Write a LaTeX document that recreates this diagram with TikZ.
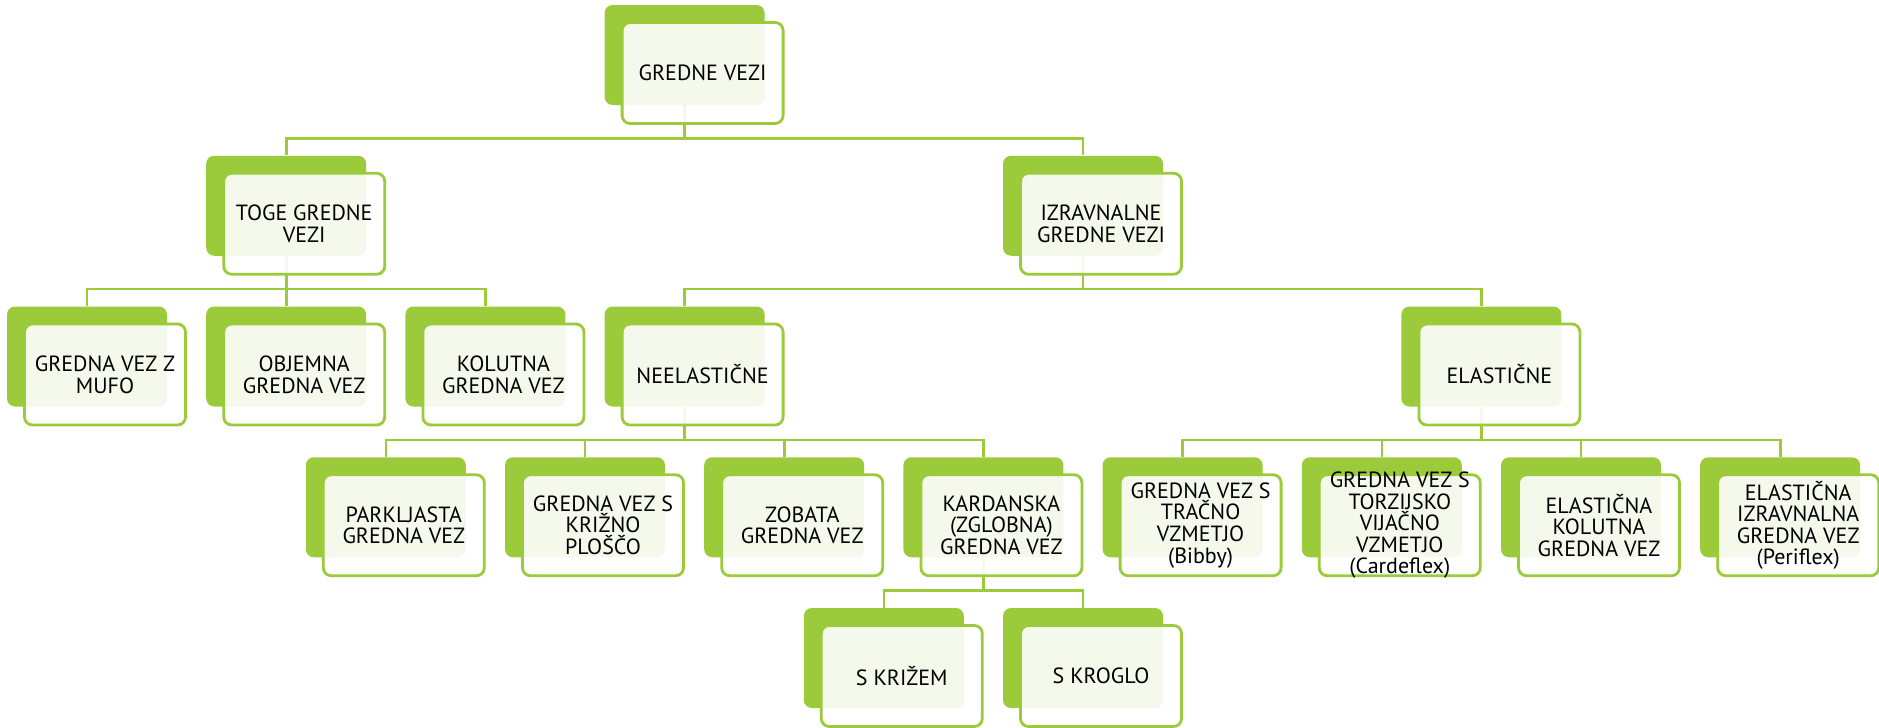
\documentclass[tikz,border=0pt]{standalone}
\usepackage{fontspec}
\setmainfont{PT Sans}
\usepackage{xcolor}
\definecolor{vezgreen}{RGB}{155,203,59}
\pgfdeclarelayer{bg}
\pgfsetlayers{bg,main}
% one box of the chart: green card behind, light card in front, text on top
\newcommand{\gvez}[4]{%
  \node[backbox] (#1-b) at ({87+199.2*#2},{55+150.75*#3}) {};
  \node[frontbox] (#1) at ([xshift=9pt,yshift=-9pt]#1-b.center) {};
  \node[vtext] (#1-t) at (#1) {#4};
}

\begin{document}
\begin{tikzpicture}[x=0.5pt, y=-0.5pt,
    backbox/.style={fill=vezgreen, rounded corners=4pt, minimum width=80pt, minimum height=50pt, inner sep=0pt},
    frontbox/.style={draw=vezgreen, line width=1.4pt, fill=white, fill opacity=0.9, rounded corners=4pt, minimum width=80.5pt, minimum height=50.5pt, inner sep=0pt},
    vtext/.style={align=center, font=\fontsize{11}{10.8}\selectfont, inner sep=0pt},
    link/.style={draw=vezgreen, line width=1.3pt}]
    \useasboundingbox (0,0) rectangle (1879,728);

    % top
    \gvez{top}{3}{0}{GREDNE VEZI}
    % second level
    \gvez{toge}{1}{1}{TOGE GREDNE\\VEZI}
    \gvez{izr}{5}{1}{IZRAVNALNE\\GREDNE VEZI}
    % third level
    \gvez{mufo}{0}{2}{GREDNA VEZ Z\\MUFO}
    \gvez{objem}{1}{2}{OBJEMNA\\GREDNA VEZ}
    \gvez{kolut}{2}{2}{KOLUTNA\\GREDNA VEZ}
    \gvez{neel}{3}{2}{NEELASTIČNE}
    \gvez{el}{7}{2}{ELASTIČNE}
    % fourth level
    \gvez{park}{1.5}{3}{PARKLJASTA\\GREDNA VEZ}
    \gvez{krizno}{2.5}{3}{GREDNA VEZ S\\KRIŽNO\\PLOŠČO}
    \gvez{zob}{3.5}{3}{ZOBATA\\GREDNA VEZ}
    \gvez{kard}{4.5}{3}{KARDANSKA\\(ZGLOBNA)\\GREDNA VEZ}
    \gvez{bibby}{5.5}{3}{GREDNA VEZ S\\TRAČNO\\VZMETJO\\(Bibby)}
    \gvez{carde}{6.5}{3}{GREDNA VEZ S\\TORZIJSKO\\VIJAČNO\\VZMETJO\\(Cardeflex)}
    \gvez{elkol}{7.5}{3}{ELASTIČNA\\KOLUTNA\\GREDNA VEZ}
    \gvez{peri}{8.5}{3}{ELASTIČNA\\IZRAVNALNA\\GREDNA VEZ\\(Periflex)}
    % fifth level
    \gvez{kriz}{4}{4}{S KRIŽEM}
    \gvez{krog}{5}{4}{S KROGLO}

    % connectors behind the cards
    \begin{pgfonlayer}{bg}
    \foreach \p/\c in {top/toge, top/izr, toge/mufo, toge/objem, toge/kolut,
        izr/neel, izr/el, neel/park, neel/krizno, neel/zob, neel/kard,
        el/bibby, el/carde, el/elkol, el/peri, kard/kriz, kard/krog}
        \draw[link] (\p-b.south) -- ++(0,33) -| (\c-b.north);
    \end{pgfonlayer}
\end{tikzpicture}
\end{document}
